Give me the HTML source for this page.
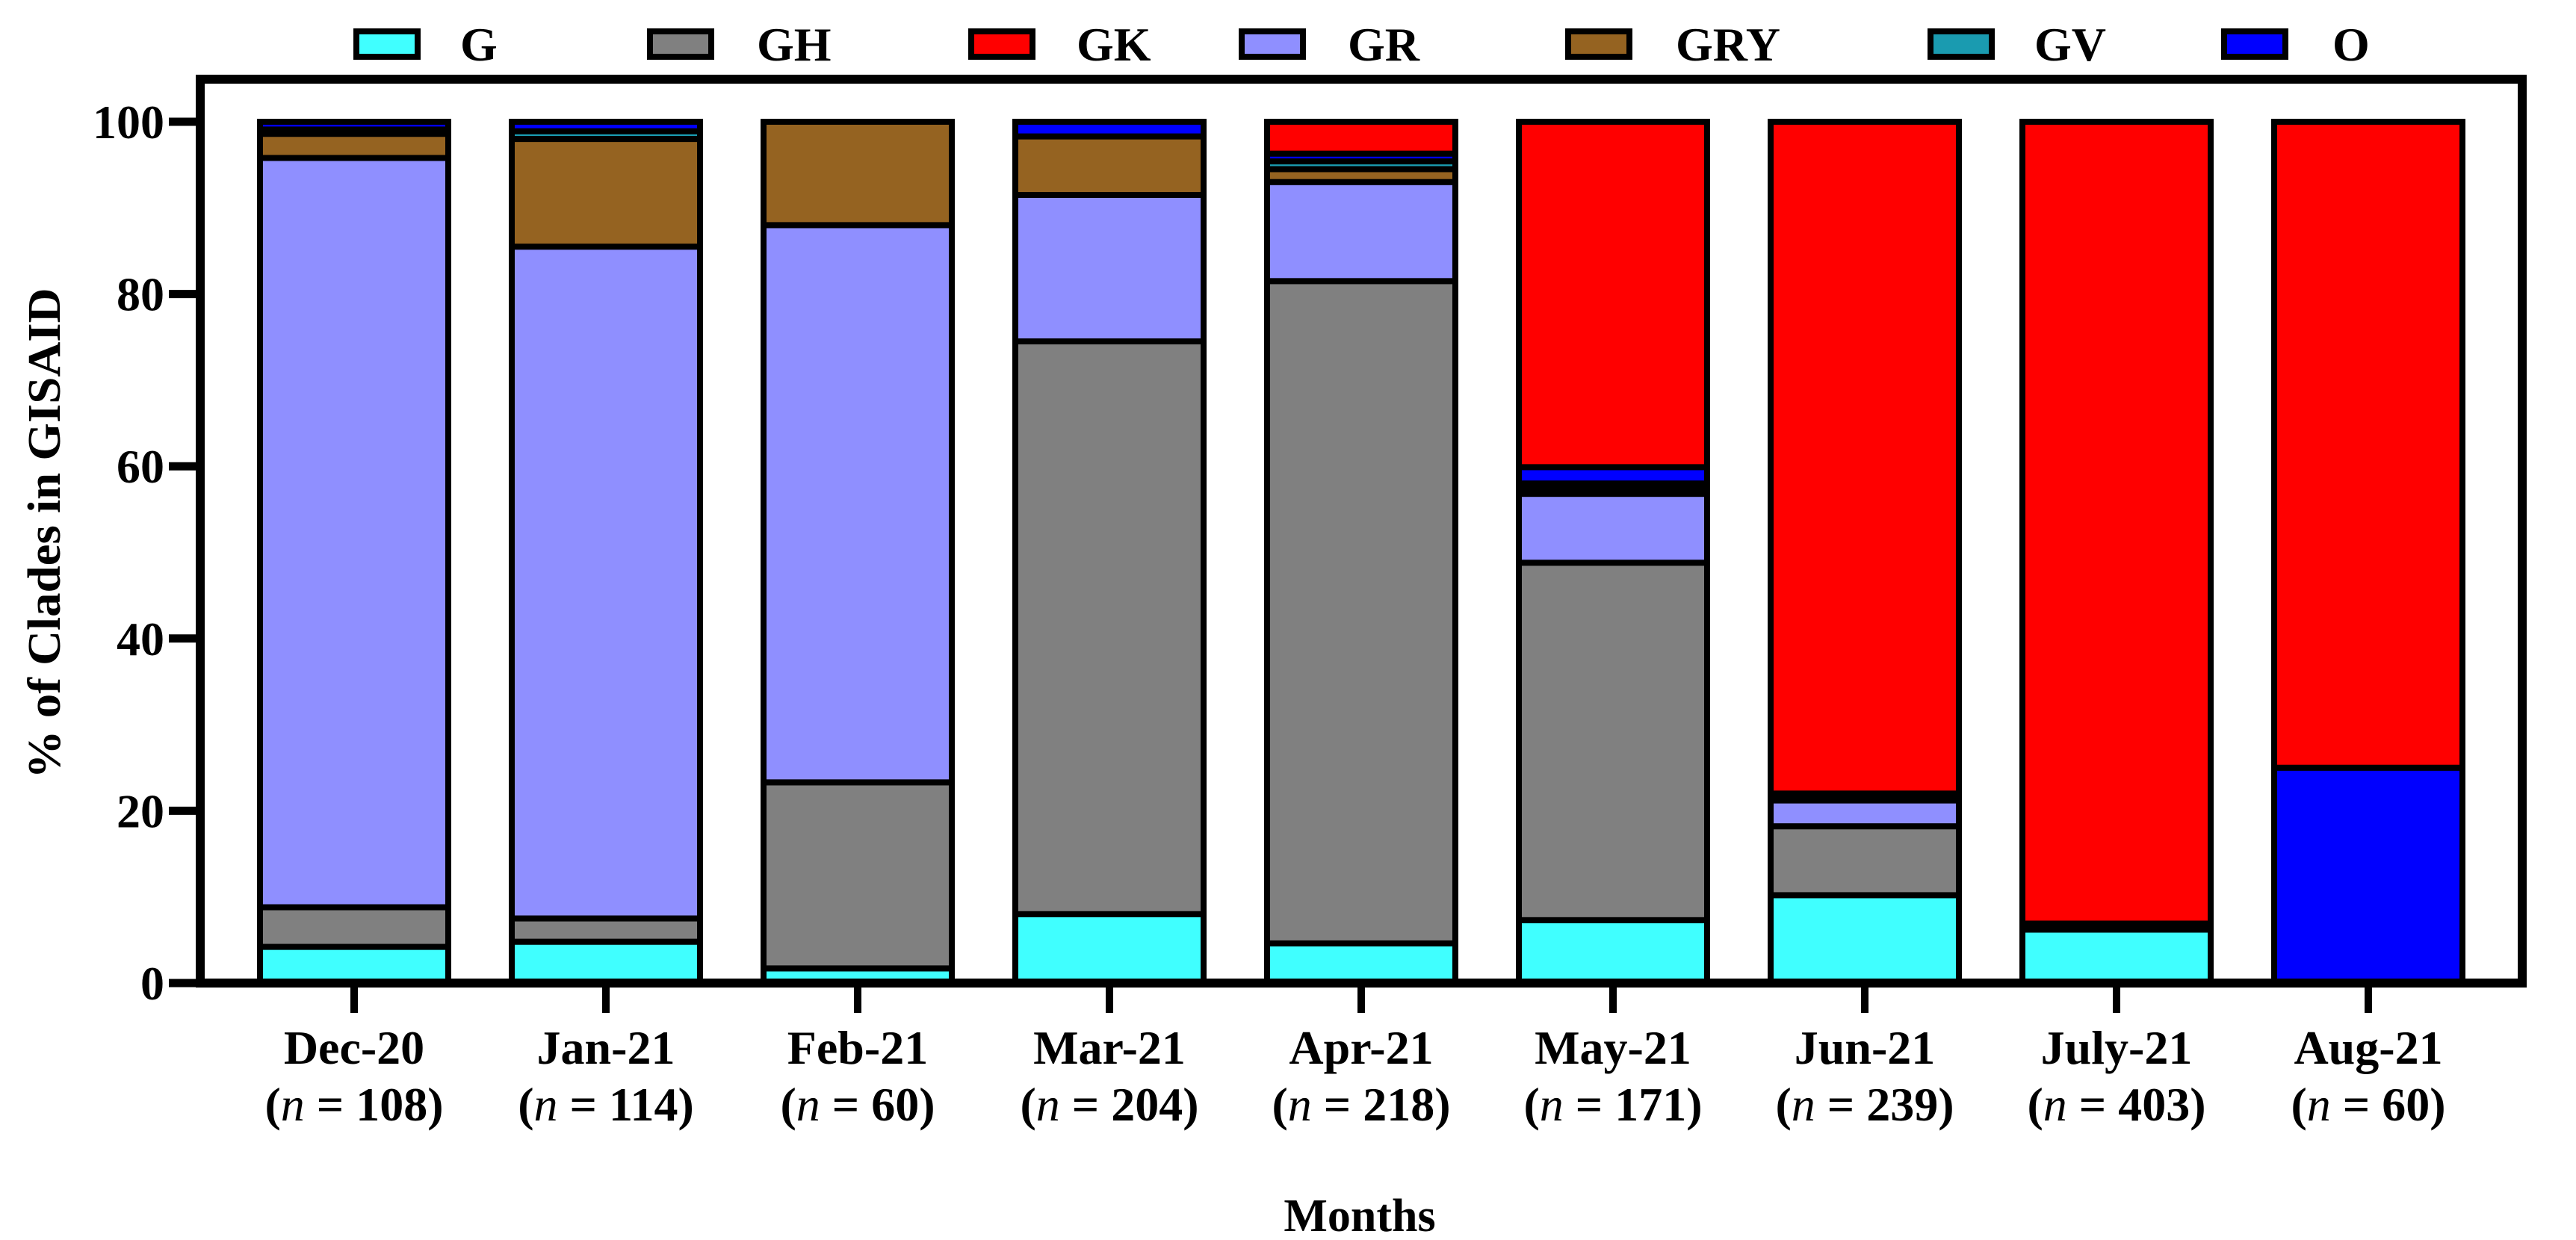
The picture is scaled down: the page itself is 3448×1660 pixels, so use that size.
<!DOCTYPE html>
<html><head><meta charset="utf-8"><style>
html,body{margin:0;padding:0;background:#fff;}
svg{display:block;font-family:"Liberation Serif",serif;}
</style></head><body>
<svg id="chart" width="3448" height="1660" viewBox="0 0 3448 1660" xmlns="http://www.w3.org/2000/svg">
<g id="legend"></g>
<g id="bars"></g>
<g id="axes"></g>
<text x="0" y="0" transform="translate(80,714) rotate(-90)" text-anchor="middle" font-weight="bold" font-size="62" textLength="657" lengthAdjust="spacingAndGlyphs">% of Clades in GISAID</text>
<text x="1820" y="1648" text-anchor="middle" font-weight="bold" font-size="62">Months</text>
</svg>
<script>
const categories = ["Dec-20","Jan-21","Feb-21","Mar-21","Apr-21","May-21","Jun-21","July-21","Aug-21"];
const sampleSizes = ["108","114","60","204","218","171","239","403","60"];
const seriesNames = ["G","GH","GR","GRY","GV","O","GK"];
const G   = [4.2, 4.8, 1.7, 8.0, 4.6, 7.3, 10.2, 6.2, 0];
const GH  = [4.6, 2.7, 21.6, 66.5, 76.9, 41.5, 8.0, 0.5, 0];
const GR  = [87.0, 78.0, 64.7, 17.0, 11.5, 8.0, 3.0, 0, 0];
const GRY = [2.8, 12.5, 12.0, 6.8, 1.5, 0.6, 0.4, 0, 0];
const GV  = [0.5, 0.9, 0, 0, 0.9, 0.6, 0.4, 0.2, 0];
const O   = [0.9, 1.1, 0, 1.7, 0.9, 1.9, 0, 0, 25.0];
const GK  = [0, 0, 0, 0, 3.7, 40.1, 78.0, 93.1, 75.0];
const yTicks = [0, 20, 40, 60, 80, 100];
const legendOrder = ["G","GH","GK","GR","GRY","GV","O"];

const colors = {G:"#40FFFF",GH:"#808080",GK:"#FF0000",GR:"#8F8FFF",GRY:"#956321",GV:"#1A9BB0",O:"#0000FF"};
const seriesData = {G:G,GH:GH,GR:GR,GRY:GRY,GV:GV,O:O,GK:GK};
const NS="http://www.w3.org/2000/svg";
const y0=1316, pxPerUnit=11.53;
function yScale(v){return y0 - v*pxPerUnit;}
function xCenter(i){return 474 + i*337;}
const barW=252;
function mk(tag, attrs, parent){const e=document.createElementNS(NS,tag);for(const k in attrs)e.setAttribute(k,attrs[k]);parent.appendChild(e);return e;}

const bars=document.getElementById('bars');
categories.forEach((c,i)=>{
  let cum=0;
  seriesNames.forEach(s=>{
    const v=seriesData[s][i];
    if(v<=0) return;
    const top=yScale(cum+v), bot=yScale(cum);
    const r=mk('rect',{x:xCenter(i)-barW/2,y:top,width:barW,height:bot-top,fill:colors[s],stroke:"#000","stroke-width":8},bars);
    
    
    cum+=v;
  });
});

const axes=document.getElementById('axes');
// frame
let f=mk('rect',{x:268,y:106,width:3108,height:1210,fill:"none",stroke:"#000","stroke-width":12},axes);


yTicks.forEach(t=>{
  const y=yScale(t);
  const l=mk('line',{x1:226,x2:268,y1:y,y2:y,stroke:"#000","stroke-width":11},axes);
  
  
  const tx=mk('text',{x:220,y:y+22,"text-anchor":"end","font-size":64,"font-weight":"bold"},axes);
  tx.textContent=t;
  
  
});
categories.forEach((c,i)=>{
  const x=xCenter(i);
  const l=mk('line',{x1:x,x2:x,y1:1316,y2:1356,stroke:"#000","stroke-width":10},axes);
  
  
  const t1=mk('text',{x:x,y:1424,"text-anchor":"middle","font-size":64,"font-weight":"bold"},axes);
  t1.textContent=c;
  
  
  const t2=mk('text',{x:x,y:1500,"text-anchor":"middle","font-size":64,"font-weight":"bold"},axes);
  t2.innerHTML='(<tspan font-style="italic" font-weight="normal">n</tspan> = '+sampleSizes[i]+')';
  
  
});

const legend=document.getElementById('legend');
const legBoxX=[473,866,1296,1658,2095,2580,2973];
const legTextX=[616,1013,1441,1804,2243,2723,3122];
legendOrder.forEach((s,i)=>{
  const r=mk('rect',{x:legBoxX[i]+4,y:42,width:82,height:34,fill:colors[s],stroke:"#000","stroke-width":8},legend);
  
  
  const t=mk('text',{x:legTextX[i],y:81,"font-size":64,"font-weight":"bold"},legend);
  t.textContent=s;
  
  
});
</script>
</body></html>
